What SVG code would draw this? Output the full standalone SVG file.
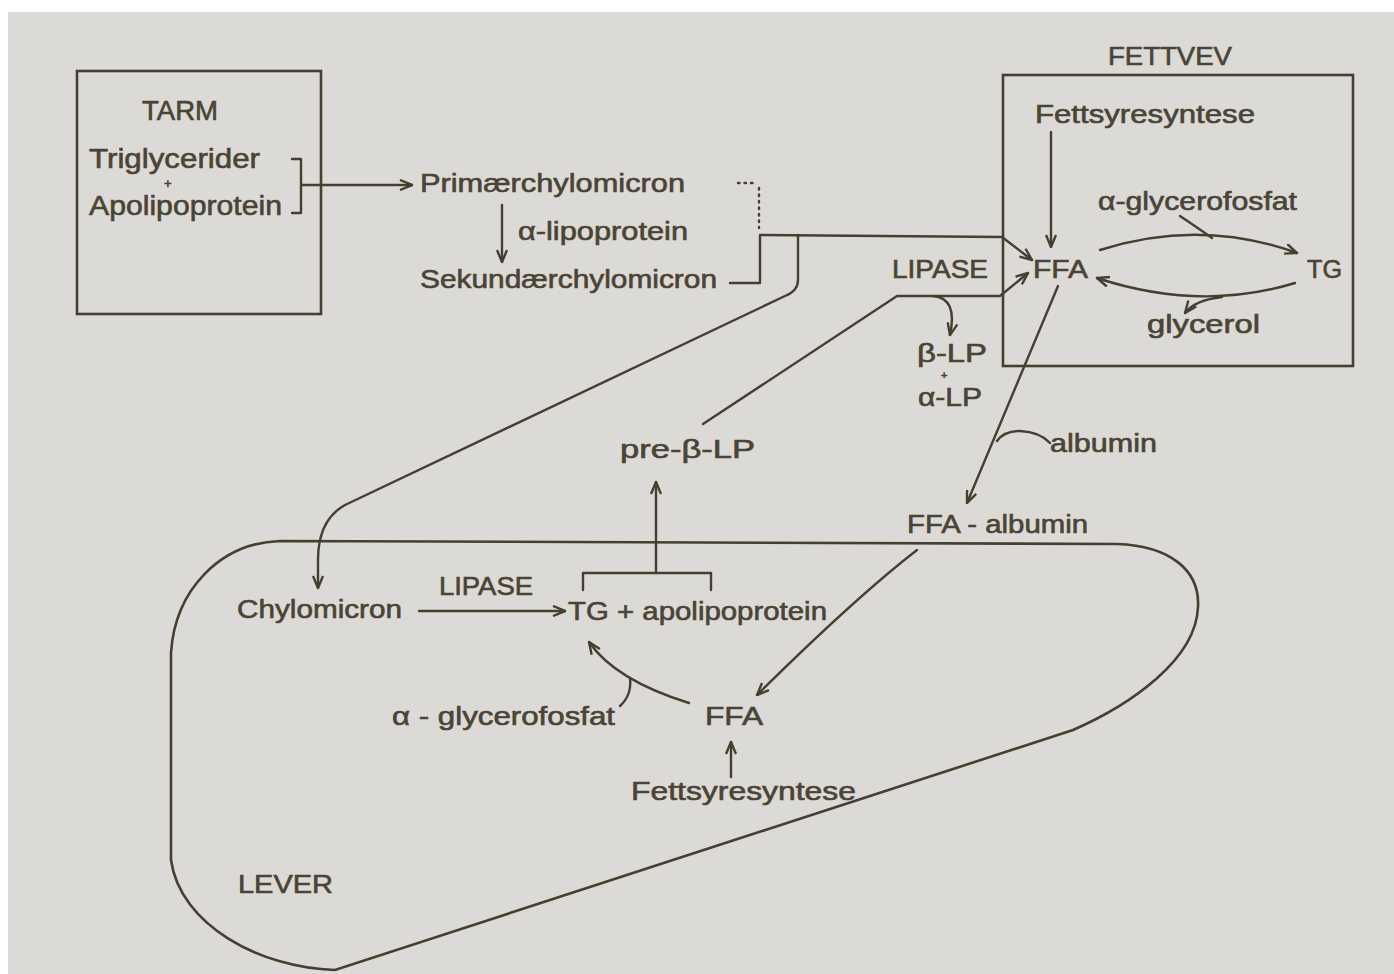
<svg xmlns="http://www.w3.org/2000/svg" width="1394" height="974" viewBox="0 0 1394 974">
<style>
.t{font-family:"Liberation Sans",Arial,sans-serif;font-size:25px;fill:#4a4435;stroke:#4a4435;stroke-width:0.6px}
.b{fill:none;stroke:#463f30;stroke-width:2.6}
.c{fill:none;stroke:#463f30;stroke-width:2.4;stroke-linecap:round;stroke-linejoin:round}
.a{marker-end:url(#ah)}
</style>
<defs>
<marker id="ah" viewBox="0 0 14 12" refX="13" refY="6" markerWidth="14" markerHeight="12" markerUnits="userSpaceOnUse" orient="auto">
<path d="M1,1 L13,6 L1,11" fill="none" stroke="#463f30" stroke-width="2.4" stroke-linejoin="miter"/>
</marker>
</defs>
<rect width="1394" height="974" fill="#ffffff"/>
<rect x="8" y="12" width="1386" height="962" fill="#dcdad6"/>

<g id="connectors">
<path class="c a" d="M302,185 L412,185"/>
<path class="c a" d="M502,205 L502,262"/>
<path class="c a" d="M730,283 L760,283 L760,235 L1002,237 L1032,260"/>
<path class="c" d="M738,183 L756,183 M759,188 L759,228" stroke-dasharray="1.5,5"/>
<path class="c a" d="M798,235 L798,280 Q798,291 785,296 L345,505 Q318,520 318,560 L318,588"/>
<path class="c a" d="M703,424 L897,296 L1000,296 L1028,273"/>
<path class="c a" d="M933,296 Q958,298 950,335"/>
<path class="c a" d="M1051,132 L1051,247"/>
<path class="c a" d="M1100,250 Q1200,218 1297,253"/>
<path class="c" d="M1180,216 Q1198,228 1212,238"/>
<path class="c a" d="M1295,283 Q1200,312 1097,278"/>
<path class="c a" d="M1222,297 Q1195,300 1185,313"/>
<path class="c a" d="M1058,286 L967,503"/>
<path class="c" d="M997,441 Q1004,431 1020,431 Q1040,432 1050,443"/>
<path class="c a" d="M917,550 Q855,598 757,695"/>
<path class="c a" d="M419,611 L565,611"/>
<path class="c" d="M583,590 L583,573 L711,573 L711,590"/>
<path class="c a" d="M656,573 L656,482"/>
<path class="c a" d="M689,703 Q615,680 589,642"/>
<path class="c" d="M620,706 Q632,695 630,678"/>
<path class="c a" d="M731,777 L731,742"/>
</g>

<g id="tarm">
<rect class="b" x="77" y="71" width="244" height="243"/>
<text class="t" x="142" y="120" textLength="76" lengthAdjust="spacingAndGlyphs" style="font-size:27px">TARM</text>
<text class="t" x="89" y="168" textLength="171" lengthAdjust="spacingAndGlyphs" style="font-size:27px">Triglycerider</text>
<text class="t" x="164" y="188" style="font-size:13px">+</text>
<text class="t" x="89" y="215" textLength="193" lengthAdjust="spacingAndGlyphs" style="font-size:27px">Apolipoprotein</text>
<path class="c" d="M292,159 L301,159 L301,213 L292,213"/>
</g>

<g id="primaer"><text class="t" x="420" y="192" textLength="265" lengthAdjust="spacingAndGlyphs">Primærchylomicron</text></g>
<g id="alfalipo"><text class="t" x="518" y="240" textLength="170" lengthAdjust="spacingAndGlyphs">α-lipoprotein</text></g>
<g id="sekundaer"><text class="t" x="420" y="288" textLength="297" lengthAdjust="spacingAndGlyphs">Sekundærchylomicron</text></g>

<g id="fettvev">
<rect class="b" x="1003" y="75" width="350" height="291"/>
<text class="t" x="1108" y="65" textLength="124" lengthAdjust="spacingAndGlyphs">FETTVEV</text>
<text class="t" x="1035" y="123" textLength="220" lengthAdjust="spacingAndGlyphs">Fettsyresyntese</text>
<text class="t" x="1033" y="278" textLength="55" lengthAdjust="spacingAndGlyphs">FFA</text>
<text class="t" x="1098" y="210" textLength="199" lengthAdjust="spacingAndGlyphs">α-glycerofosfat</text>
<text class="t" x="1307" y="278" textLength="35" lengthAdjust="spacingAndGlyphs">TG</text>
<text class="t" x="1147" y="333" textLength="113" lengthAdjust="spacingAndGlyphs">glycerol</text>
</g>

<g id="lipase-top"><text class="t" x="892" y="278" textLength="96" lengthAdjust="spacingAndGlyphs">LIPASE</text></g>
<g id="lp">
<text class="t" x="917" y="362" textLength="70" lengthAdjust="spacingAndGlyphs">β-LP</text>
<text class="t" x="941" y="379" style="font-size:11px">+</text>
<text class="t" x="918" y="406" textLength="64" lengthAdjust="spacingAndGlyphs">α-LP</text>
</g>
<g id="prebeta"><text class="t" x="620" y="458" textLength="135" lengthAdjust="spacingAndGlyphs">pre-β-LP</text></g>
<g id="albumin"><text class="t" x="1050" y="452" textLength="107" lengthAdjust="spacingAndGlyphs">albumin</text></g>
<g id="ffa-albumin"><text class="t" x="907" y="533" textLength="181" lengthAdjust="spacingAndGlyphs">FFA - albumin</text></g>

<g id="lever">
<path class="b" d="M280,541 L1117,544 C1170,546 1200,570 1198,607 C1196,660 1130,705 1073,730 L335,970 C260,968 180,925 171,860 L171,653 C175,590 220,543 280,541 Z"/>
<text class="t" x="238" y="893" textLength="95" lengthAdjust="spacingAndGlyphs">LEVER</text>
<text class="t" x="237" y="618" textLength="165" lengthAdjust="spacingAndGlyphs">Chylomicron</text>
<text class="t" x="439" y="595" textLength="94" lengthAdjust="spacingAndGlyphs">LIPASE</text>
<text class="t" x="568" y="620" textLength="259" lengthAdjust="spacingAndGlyphs">TG + apolipoprotein</text>
<text class="t" x="392" y="725" textLength="223" lengthAdjust="spacingAndGlyphs">α - glycerofosfat</text>
<text class="t" x="705" y="725" textLength="58" lengthAdjust="spacingAndGlyphs">FFA</text>
<text class="t" x="631" y="800" textLength="225" lengthAdjust="spacingAndGlyphs">Fettsyresyntese</text>
</g>
</svg>
